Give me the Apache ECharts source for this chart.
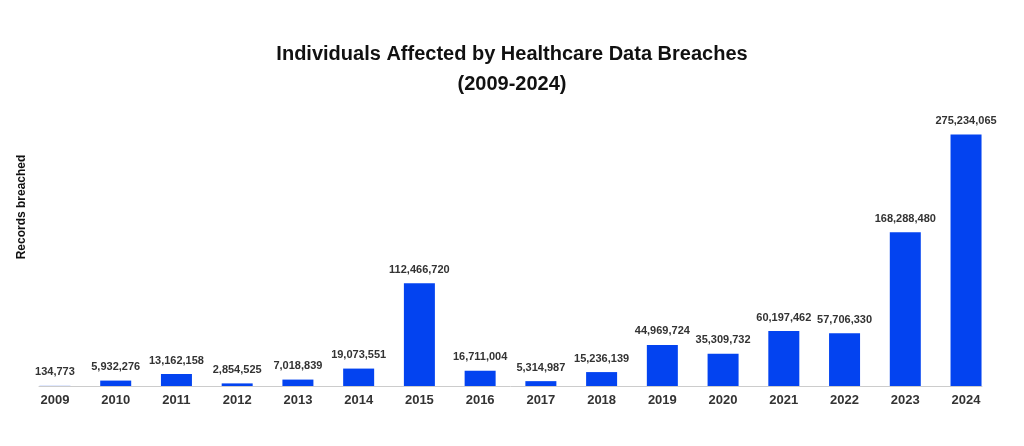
<!DOCTYPE html>
<html><head><meta charset="utf-8">
<script src="https://cdn.jsdelivr.net/npm/echarts@6/dist/echarts.min.js"></script>
<style>html,body{margin:0;padding:0;background:#fff}#c{width:1024px;height:446px}</style>
</head><body><div id="c"></div>
<script>
const titleText = 'Individuals Affected by Healthcare Data Breaches\n(2009-2024)';
const yAxisName = 'Records breached';
const years = ['2009','2010','2011','2012','2013','2014','2015','2016','2017','2018','2019','2020','2021','2022','2023','2024'];
const records = [134773,5932276,13162158,2854525,7018839,19073551,112466720,16711004,5314987,15236139,44969724,35309732,60197462,57706330,168288480,275234065];

const chart = echarts.init(document.getElementById('c'), null, {renderer:'canvas'});
const font = 'Liberation Sans, Arial, sans-serif';
chart.setOption({
  animation:false,
  backgroundColor:'#fff',
  title:{text:titleText,left:'center',top:34,
    textStyle:{fontFamily:font,fontSize:20,fontWeight:'bold',color:'#111',lineHeight:30}},
  graphic:[{type:'text',x:22,y:207,rotation:Math.PI/2,
    style:{text:yAxisName,fontFamily:font,fontSize:12,fontWeight:'bold',fill:'#111',align:'center',verticalAlign:'middle'}}],
  grid:[{left:24.6,right:27.6,top:112,bottom:60,containLabel:false},
        {left:39,right:42,top:112,bottom:60,containLabel:false}],
  xAxis:[{type:'category',data:years,gridIndex:0,axisLine:{show:false},axisTick:{show:false},
      axisLabel:{fontFamily:font,fontSize:13,fontWeight:'bold',color:'#333',margin:8}},
    {type:'value',gridIndex:1,min:0,max:1,axisLine:{show:true,lineStyle:{color:'#ccc',width:1}},
      axisTick:{show:false},axisLabel:{show:false},splitLine:{show:false}}],
  yAxis:[{type:'value',gridIndex:0,min:0,max:300000000,show:false,splitLine:{show:false}},
    {type:'value',gridIndex:1,min:0,max:1,show:false,splitLine:{show:false}}],
  series:[{type:'bar',data:records,barWidth:31,xAxisIndex:0,yAxisIndex:0,
    itemStyle:{color:'#0343F0'},
    label:{show:true,position:'top',distance:8,fontFamily:font,fontSize:11,fontWeight:'bold',color:'#333',
      formatter:p=>p.value.toLocaleString('en-US')}}]
});
</script></body></html>
